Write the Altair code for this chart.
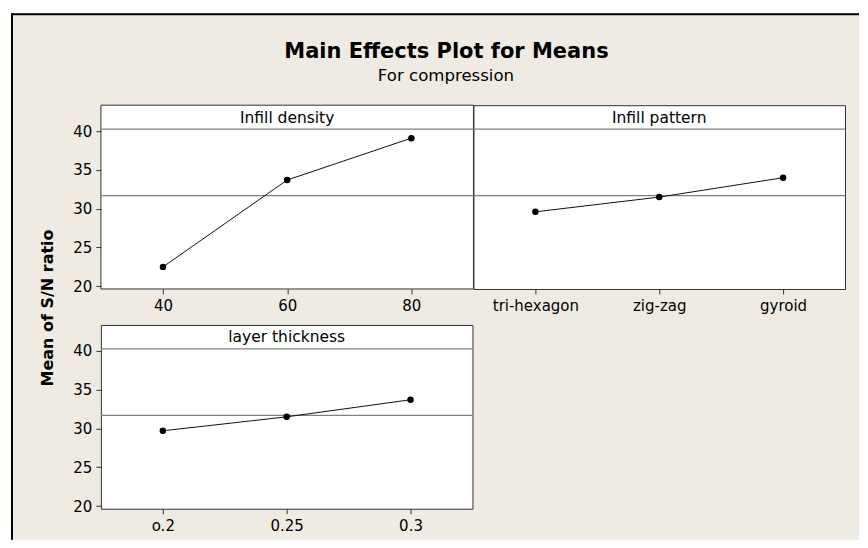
import altair as alt
import pandas as pd

# ---- data ----
density_levels = [40, 60, 80]
density_means = [22.5, 33.7, 39.1]
pattern_levels = ["tri-hexagon", "zig-zag", "gyroid"]
pattern_means = [29.6, 31.5, 34.0]
thickness_levels = ["o.2", "0.25", "0.3"]
thickness_means = [29.7, 31.5, 33.7]
grand_mean = [31.7]
y_ticks = [20, 25, 30, 35, 40]
panel_titles = ["Infill density", "Infill pattern", "layer thickness"]
chart_title = "Main Effects Plot for Means"
chart_subtitle = "For compression"
y_title = "Mean of S/N ratio"

FONT = "DejaVu Sans"
BG = "#EFEBE2"
FRAME = "#333333"
REF = "#808080"
Y_DOMAIN = [19.65, 43.35]
PH = 184
STRIP = 24
W1 = 373

one = pd.DataFrame({"k": [0]})
mean_df = pd.DataFrame({"m": grand_mean})


def x_axis(**kw):
    return alt.Axis(domain=False, grid=False, tickSize=5, tickColor=FRAME,
                    labelPadding=5, labelFont=FONT, labelFontSize=15,
                    labelColor="black", labelAngle=0, title=None, zindex=1, **kw)


def y_axis():
    return alt.Axis(values=y_ticks, domain=False, grid=False, tickSize=5,
                    tickColor=FRAME, labelPadding=4, labelFont=FONT,
                    labelFontSize=15, labelColor="black", title=None, zindex=1)


def panel_layers(levels, means, xenc, title, width, show_y):
    df = pd.DataFrame({"lvl": levels, "v": means})
    yscale = alt.Scale(domain=Y_DOMAIN, nice=False, zero=False)
    ax = y_axis() if show_y else None
    line = alt.Chart(df).mark_line(color="#111111", strokeWidth=1).encode(
        x=xenc, y=alt.Y("v:Q", scale=yscale, axis=ax))
    pts = alt.Chart(df).mark_point(filled=True, color="black", size=42, opacity=1).encode(
        x=xenc, y=alt.Y("v:Q", scale=yscale, axis=ax))
    mean_rule = alt.Chart(mean_df).mark_rule(color=REF, strokeWidth=1.2).encode(
        y=alt.Y("m:Q", scale=yscale, axis=ax))
    strip_rule = alt.Chart(one).mark_rule(color=REF, strokeWidth=1.2).encode(
        x=alt.value(0), x2=alt.value(width), y=alt.value(STRIP))
    strip_text = alt.Chart(one).mark_text(font=FONT, fontSize=15.5, color="black",
                                          align="center", baseline="alphabetic").encode(
        x=alt.value(width / 2), y=alt.value(17.5), text=alt.value(title))
    return [mean_rule, strip_rule, line, pts, strip_text]


# decorations that live around the first panel (outer frame, titles, y title)
frame = alt.Chart(one).mark_rect(fill=BG).encode(
    x=alt.value(-90), x2=alt.value(759), y=alt.value(-92), y2=alt.value(435))
edge_top = alt.Chart(one).mark_rule(color="black", strokeWidth=2).encode(
    x=alt.value(-90), x2=alt.value(759), y=alt.value(-91))
edge_left = alt.Chart(one).mark_rule(color="black", strokeWidth=2).encode(
    x=alt.value(-89), y=alt.value(-92), y2=alt.value(435))
plot_bg = alt.Chart(one).mark_rect(fill="white", stroke=FRAME, strokeWidth=1).encode(
    x=alt.value(0), x2=alt.value(W1), y=alt.value(0), y2=alt.value(PH))
t1 = alt.Chart(one).mark_text(font=FONT, fontSize=21, fontWeight="bold", color="black",
                              align="center", baseline="alphabetic").encode(
    x=alt.value(346), y=alt.value(-47), text=alt.value(chart_title))
t2 = alt.Chart(one).mark_text(font=FONT, fontSize=16.6, color="black",
                              align="center", baseline="alphabetic").encode(
    x=alt.value(345.5), y=alt.value(-24), text=alt.value(chart_subtitle))
ylab = alt.Chart(one).mark_text(font=FONT, fontSize=16, fontWeight="bold", angle=270,
                                color="black", align="center", baseline="middle").encode(
    x=alt.value(-53), y=alt.value(203), text=alt.value(y_title))

p1 = alt.layer(
    frame, edge_top, edge_left, plot_bg, t1, t2, ylab,
    *panel_layers(density_levels, density_means,
                  alt.X("lvl:Q", scale=alt.Scale(domain=[30, 90], nice=False, zero=False),
                        axis=x_axis(values=density_levels, format="d")),
                  panel_titles[0], W1, True)
).properties(width=W1, height=PH,
             view=alt.ViewBackground(fill="transparent", stroke="transparent"))

p2 = alt.layer(
    *panel_layers(pattern_levels, pattern_means,
                  alt.X("lvl:N", sort=pattern_levels, scale=alt.Scale(type="point", padding=0.5),
                        axis=x_axis()),
                  panel_titles[1], 372, False)
).properties(width=372, height=PH,
             view=alt.ViewBackground(fill="white", stroke=FRAME, strokeWidth=1))

p3 = alt.layer(
    *panel_layers(thickness_levels, thickness_means,
                  alt.X("lvl:N", sort=thickness_levels, scale=alt.Scale(type="point", padding=0.5),
                        axis=x_axis()),
                  panel_titles[2], 372, True)
).properties(width=372, height=PH,
             view=alt.ViewBackground(fill="white", stroke=FRAME, strokeWidth=1))

chart = alt.concat(p1, p2, p3, columns=2, spacing={"row": 36, "column": 0},
                   bounds="flush").properties(
    padding={"left": 2, "top": 4, "right": 0, "bottom": 0},
    background="white",
).configure_view(strokeWidth=0)

chart.save("out.html", embed_options={"renderer": "svg", "actions": False})
